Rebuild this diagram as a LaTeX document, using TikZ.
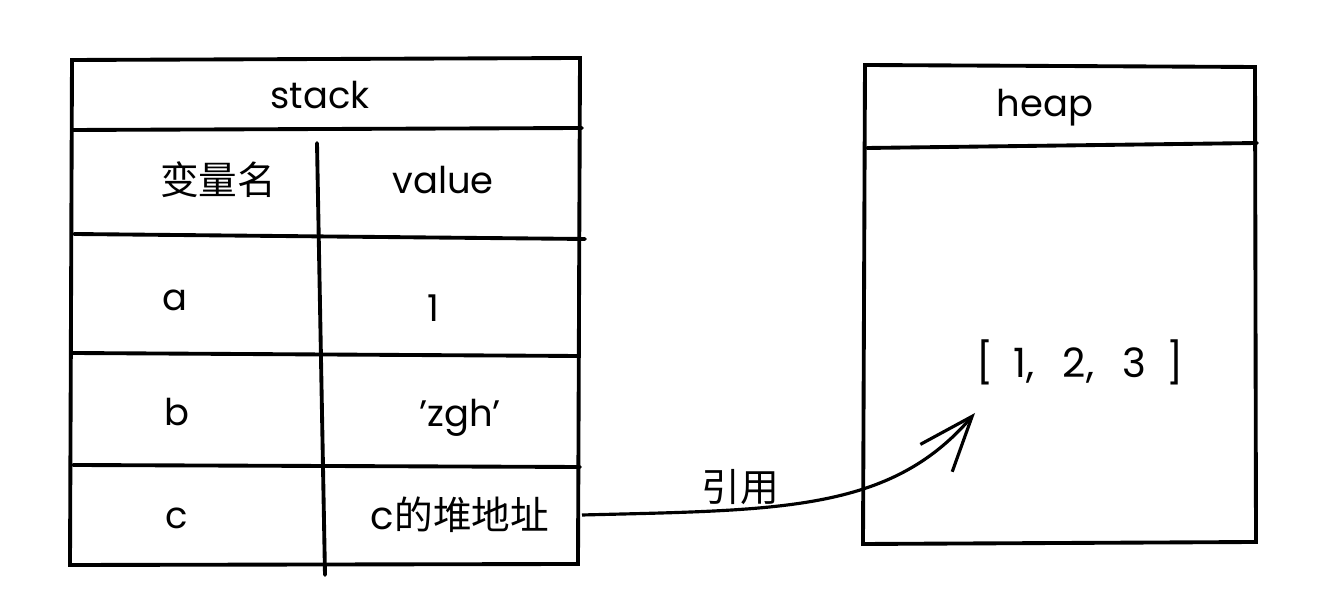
\documentclass[tikz,border=0pt]{standalone}
\usepackage{fontspec}
\setmainfont{Poppins}
\newfontfamily\cjk{Noto Sans CJK SC}
\usetikzlibrary{arrows.meta}
\begin{document}
\begin{tikzpicture}[
  sk/.style={line width=1.1pt, line cap=round, black},
  lbl/.style={inner sep=0pt, font=\fontsize{10.5pt}{12pt}\selectfont},
  zh/.style={inner sep=0pt, font=\cjk\fontsize{11pt}{13pt}\selectfont},
  ref/.style={line width=0.9pt, -{Straight Barb[length=0.55cm, width=0.42cm, line width=0.9pt]}}
]
\useasboundingbox (0,0) rectangle (13.24,6.12);
% stack table outline
\draw[sk] (0.72,5.52) -- (5.80,5.54) -- (5.78,0.48) -- (0.70,0.47) -- cycle;
\draw[sk] (0.72,4.82) -- (5.82,4.84);
\draw[sk] (0.74,3.78) -- (5.85,3.73);
\draw[sk] (0.72,2.59) -- (5.78,2.56);
\draw[sk] (0.73,1.47) -- (5.80,1.45);
\draw[sk] (3.17,4.69) -- (3.25,0.37);
% heap box
\draw[sk] (8.65,5.47) -- (12.55,5.45) -- (12.56,0.70) -- (8.63,0.68) -- cycle;
\draw[sk] (8.67,4.64) -- (12.57,4.69);
% texts
\node[lbl] (stack) at (3.20,5.17) {stack};
\node[zh]  (name)  at (2.18,4.32) {变量名};
\node[lbl] (value) at (4.43,4.32) {value};
\node[lbl] (a)     at (1.75,3.12) {a};
\node[lbl] (one)   at (4.33,3.04) {1};
\node[lbl] (b)     at (1.77,2.00) {b};
\node[lbl] (zgh)   at (4.60,1.94) {\symbol{39}zgh\symbol{39}};
\node[lbl] (c)     at (1.77,0.94) {c};
\node[zh]  (caddr) at (4.60,0.97) {\fontspec{Poppins}c\cjk 的堆地址};
\node[lbl] (heap)  at (10.45,5.04) {heap};
\node[lbl, font=\fontsize{11.5pt}{13pt}\selectfont] (list) at (10.80,2.50) {[\hspace{0.5em}1,\hspace{0.7em}2,\hspace{0.7em}3\hspace{0.5em}]};
\node[zh]  (yy)    at (7.40,1.25) {引用};
% reference arrow
\coordinate (start) at (5.82,0.97);
\coordinate (tip) at (9.75,1.99);
\draw[ref] (start) .. controls (7.8,1.02) and (8.9,1.0) .. (tip);
\end{tikzpicture}
\end{document}
